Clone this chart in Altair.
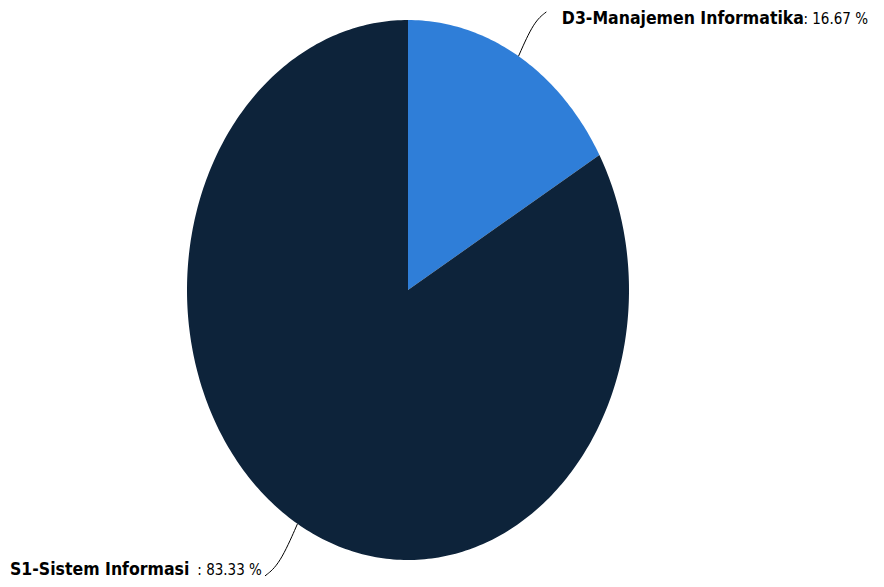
import altair as alt
import pandas as pd
import numpy as np

categories = ["D3-Manajemen Informatika", "S1-Sistem Informasi"]
percents = [16.67, 83.33]
colors = ["#2f7ed8", "#0d233a"]

# geometry of the (elliptical) plot in pixels
PAD_T, PAD_B = 10, 6
W, H = 868, 571 - PAD_T - PAD_B
CX, CY = 400, 272
RX, RY = 221, 270
xdom = [-CX / RX, (W - CX) / RX]
ydom = [-(H - CY) / RY, CY / RY]

# slice polygons on a unit circle, stretched by the scales into an ellipse
rows = []
start = 0.0
mids = []
for cat, p in zip(categories, percents):
    a0 = start / 100 * 2 * np.pi
    a1 = (start + p) / 100 * 2 * np.pi
    mids.append((a0 + a1) / 2)
    n = max(3, int(p * 4))
    pts = [(0.0, 0.0)] + [(np.sin(a), np.cos(a)) for a in np.linspace(a0, a1, n)] + [(0.0, 0.0)]
    for i, (x, y) in enumerate(pts):
        rows.append({"cat": cat, "i": i, "x": x, "y": y})
    start += p
pie_df = pd.DataFrame(rows)

xs = alt.Scale(domain=xdom, nice=False, zero=False)
ys = alt.Scale(domain=ydom, nice=False, zero=False)
X = lambda f="x": alt.X(f, type="quantitative", scale=xs, axis=None)
Y = lambda f="y": alt.Y(f, type="quantitative", scale=ys, axis=None)

pie = alt.Chart(pie_df).mark_line(filled=True, strokeWidth=0.5).encode(
    x=X(), y=Y(), order="i:Q", detail="cat:N",
    color=alt.Color("cat:N", scale=alt.Scale(domain=categories, range=colors), legend=None),
)

# connectors and labels, placed from each slice's middle angle
conn_rows = []
lab_rows = []
for k, (cat, p, m) in enumerate(zip(categories, percents, mids)):
    sx, sy = np.sin(m), np.cos(m)
    right = sx >= 0
    if right:
        dx, dv, ldy = 0.126, 0.164, -0.026
    else:
        dx, dv, ldy = -0.147, -0.193, 0.022
    ex, ey = sx + dx, sy + dv
    cx_, cy_ = sx + dx * 0.55, sy + dv * 0.78
    for j, (x, y) in enumerate([(sx, sy), (cx_, cy_), (ex, ey)]):
        conn_rows.append({"cat": cat, "j": j, "x": x, "y": y})
    lab_rows.append({"cat": cat, "name": cat, "val": f": {p:.2f} %",
                     "nx": ex + 0.07, "vx": ex - 0.014, "y": ey + ldy,
                     "side": "r" if right else "l"})
conn_df = pd.DataFrame(conn_rows)
lab_df = pd.DataFrame(lab_rows)

conn = alt.Chart(conn_df).mark_line(color="#000000", strokeWidth=1, interpolate="basis").encode(
    x=X(), y=Y(), order="j:Q", detail="cat:N"
)

FONT = "DejaVu Sans Condensed"
FS_NAME = 17.5
FS_VAL = 15

r_df = lab_df[lab_df.side == "r"]
l_df = lab_df[lab_df.side == "l"]

r_name = alt.Chart(r_df).mark_text(align="left", baseline="middle", font=FONT, fontSize=FS_NAME,
                                   fontWeight="bold", color="#000000").encode(
    x=X("nx"), y=Y(), text="name:N")
r_val = alt.Chart(r_df).mark_text(align="right", baseline="middle", font=FONT, fontSize=FS_VAL,
                                  color="#000000").encode(
    x=alt.value(860), y=Y(), text="val:N")

l_val = alt.Chart(l_df).mark_text(align="right", baseline="middle", font=FONT, fontSize=FS_VAL,
                                  color="#000000").encode(
    x=X("vx"), y=Y(), text="val:N")
l_name = alt.Chart(l_df).mark_text(align="left", baseline="middle", font=FONT, fontSize=FS_NAME,
                                   fontWeight="bold", color="#000000").encode(
    x=alt.value(2), y=Y(), text="name:N")

chart = alt.layer(pie, conn, r_name, r_val, l_val, l_name).properties(
    width=W, height=H, autosize=alt.AutoSizeParams(type="none"),
    padding={"left": 0, "top": PAD_T, "right": 0, "bottom": PAD_B},
    background="#ffffff"
).configure_view(stroke=None, strokeWidth=0)

chart.save("out.html", embed_options={"renderer": "svg", "actions": False})
